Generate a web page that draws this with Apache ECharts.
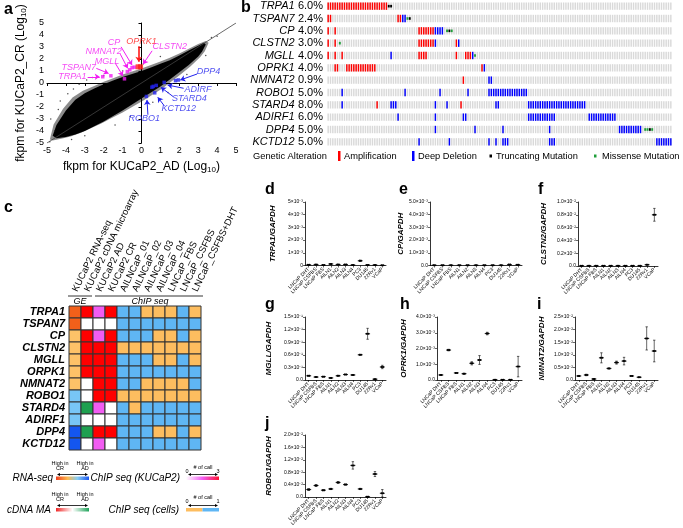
<!DOCTYPE html>
<html><head><meta charset="utf-8">
<script src="https://cdn.jsdelivr.net/npm/echarts/dist/echarts.min.js"></script>
<style>html,body{margin:0;padding:0;background:#fff}#c{width:683px;height:528px}</style>
</head><body><div id="c"></div>
<script>
const FONT = 'Liberation Sans, Arial, Helvetica, sans-serif';

// ---------- Panel a data ----------
const CLOUD_X = [-4.7,-4.5,-4.0,-3.5,-3.0,-2.5,-2.0,-1.5,-1.0,-0.5,0.0,0.5,1.0,1.5,2.0,2.5,3.0,3.3,3.4,3.2,3.0,2.5,2.0,1.5,1.0,0.5,0.0,-0.5,-1.0,-1.5,-2.0,-2.5,-3.0,-3.5,-4.0,-4.5];
const CLOUD_Y = [-4.4,-3.5,-2.3,-1.4,-0.85,-0.45,-0.1,0.2,0.5,0.75,1.0,1.3,1.6,1.9,2.3,2.7,3.1,3.35,3.2,2.6,2.2,1.5,0.9,0.3,-0.3,-0.8,-1.3,-1.8,-2.3,-2.75,-3.2,-3.6,-4.0,-4.3,-4.5,-4.6];
const HALO_X = [-4.85,-4.65,-4.15,-3.65,-3.1,-2.5,-2.0,-1.5,-1.0,-0.5,0.0,0.5,1.0,1.5,2.0,2.5,3.0,3.4,3.55,3.35,3.1,2.6,2.1,1.6,1.1,0.6,0.1,-0.45,-1.0,-1.55,-2.1,-2.65,-3.2,-3.75,-4.25,-4.7];
const HALO_Y = [-4.7,-3.45,-2.15,-1.2,-0.65,-0.25,0.1,0.4,0.7,0.95,1.2,1.5,1.8,2.1,2.45,2.85,3.25,3.5,3.35,2.65,2.15,1.4,0.75,0.15,-0.45,-0.95,-1.45,-1.95,-2.45,-2.9,-3.35,-3.75,-4.15,-4.45,-4.65,-4.8];
const OUT_X = [-4.85,-4.6,-4.3,-3.9,-3.6,-3.3,-2.9,-2.6,-4.4,-3.0,-1.4,-0.6,0.6,1.4,2.4,3.4,3.7,4.0,-2.0,-1.0,0.1,1.0,-4.8,-3.7];
const OUT_Y = [-4.9,-4.0,-1.5,-0.9,-0.5,-0.1,0.25,0.45,-2.2,-4.4,-3.5,-2.8,-1.6,-0.8,0.7,2.3,3.8,3.9,0.6,1.0,1.6,2.2,-3.0,-4.7];
const PT_X = [-2.05,-1.62,-0.9,-0.75,-0.62,-0.5,-0.38,-0.18,-0.05,1.8,1.95,1.2,0.78,0.62,0.55,0.7,0.26];
const PT_Y = [0.52,0.6,0.35,0.95,1.1,1.28,1.32,1.35,1.35,0.2,0.25,0.05,-0.2,-0.28,-0.35,-0.82,-1.12];
const PT_G = ['m','m','m','m','m','m','m','r','r','b','b','b','b','b','b','b','b'];
const LBL_NAMES = ['TRPA1','TSPAN7','MGLL','NMNAT2','CP','OPRK1','CLSTN2','DPP4','ADIRF','STARD4','KCTD12','ROBO1'];
const LBL_X = [-3.66,-3.32,-1.83,-2.0,-1.45,0.0,1.5,3.55,2.99,2.53,1.97,0.15];
const LBL_Y = [0.52,1.3,1.82,2.6,3.34,3.43,3.01,1.0,-0.5,-1.33,-2.15,-2.98];
const LBL_G = ['m','m','m','m','m','r','m','b','b','b','b','b'];
const ARR_X1 = [-2.85,-2.39,-1.38,-1.12,-1.08,-0.15,0.56,2.94,2.23,1.67,1.21,0.34];
const ARR_Y1 = [0.52,1.22,1.63,2.4,3.01,3.07,2.68,0.75,-0.44,-1.13,-1.91,-2.65];
const ARR_X2 = [-2.21,-1.74,-0.98,-0.73,-0.5,-0.15,0.08,2.05,1.38,1.03,0.86,0.29];
const ARR_Y2 = [0.52,0.8,0.58,1.22,1.49,1.77,1.57,0.25,-0.17,-0.36,-1.19,-1.41];

// ---------- Panel b data ----------
const ONCO_GENES = ['TRPA1','TSPAN7','CP','CLSTN2','MGLL','OPRK1','NMNAT2','ROBO1','STARD4','ADIRF1','DPP4','KCTD12'];
const ONCO_PCT = ['6.0%','2.4%','4.0%','3.0%','4.0%','4.0%','0.9%','5.0%','8.0%','6.0%','5.0%','5.0%'];
const ONCO_NCOL = 148;
const AMP_RUNS = [[[0,25]],[[0,1],[30,31]],[[0,0],[3,3],[39,45]],[[0,0],[3,3],[39,45],[55,55]],[[0,0],[3,3],[6,6],[39,42],[55,55],[59,61]],[[3,4],[8,20],[66,66]],[[58,58]],[],[[21,21],[57,57]],[],[],[]];
const DEL_RUNS = [[],[[32,33]],[[46,49]],[[46,46],[56,56]],[[27,27],[62,62]],[[67,67]],[[69,70]],[[6,6],[33,33],[48,48],[60,60],[69,85]],[[6,6],[27,29],[46,46],[51,51],[72,73],[86,110]],[[30,30],[46,46],[58,59],[86,97],[112,123]],[[46,46],[63,63],[75,75],[95,95],[125,134]],[[39,39],[52,52],[69,69],[72,72],[75,77],[95,97],[141,147]]];
const TRUNC_COLS = [[26,27],[35],[52],[],[],[],[],[],[],[],[138],[]];
const MISS_COLS = [[],[34],[51,53],[5],[63],[],[],[],[],[],[136,137,139],[]];

// ---------- Panel c data ----------
const HM_COLS = ['KUCaP2 RNA-seq','KUCaP2 cDNA microarray','KUCaP2 AD','KUCaP2 CR','AILNCaP_01','AILNCaP_02','AILNCaP_03','AILNCaP_04','LNCaP_FBS','LNCaP_CSFBS','LNCaP_CSFBS+DHT'];
const HM_GENES = ['TRPA1','TSPAN7','CP','CLSTN2','MGLL','ORPK1','NMNAT2','ROBO1','STARD4','ADIRF1','DPP4','KCTD12'];
const RNA_SEQ = [2,2,1,1,1,1,1,-1,-1,-1,-2,-2];
const CDNA_MA = [1,0,1,1,1,1,0,0,-1,0,-1,0];
const CHIP_AD = [1,0,1,3,3,3,3,3,1,0,3,1];
const CHIP_CR = [3,0,3,3,3,3,3,3,0,0,3,0];
const CHIP_CELLS = ['1100010','1111111','1110010','0000000','1110010','1111111','1100001','0000000','1011111','1111111','1110010','1111111'];

// ---------- Panels d-j data ----------
const CELLS = ['LNCaP DHT','LNCaP CSFBS','LNCaP FBS','AILN1','AILN2','AILN3','AILN4','PC3','DU145','22Rv1','VCaP'];
const TRPA1_M = [0.05,0.07,0.03,0.12,0.08,0.08,0.03,0.37,0.04,0.03,0.01];
const TRPA1_SD = [0.01,0.01,0.01,0.02,0.01,0.01,0.01,0.05,0.01,0.01,0.01];
const CP_M = [0.02,0.02,0.02,0.02,0.02,0.02,0.02,0.02,0.02,0.07,0.06];
const CP_SD = [0,0,0,0,0,0,0,0,0,0.02,0.02];
const CLSTN2_M = [0.005,0.005,0.005,0.005,0.005,0.005,0.005,0.005,0.005,0.02,0.8];
const CLSTN2_SD = [0,0,0,0,0,0,0,0,0,0.005,0.1];
const MGLL_M = [0.10,0.07,0.08,0.05,0.10,0.13,0.12,0.60,1.10,0.02,0.31];
const MGLL_SD = [0.01,0.01,0.01,0.01,0.01,0.01,0.01,0.01,0.13,0.01,0.04];
const OPRK1_M = [0.32,1.90,0.45,0.40,1.06,1.27,2.95,0.02,0.02,0.02,0.85];
const OPRK1_SD = [0.02,0.05,0.02,0.03,0.1,0.28,0.08,0.01,0.01,0.01,0.65];
const NMNAT2_M = [0.16,0.20,0.04,0.88,0.46,0.69,0.75,0.16,0.11,1.65,1.15];
const NMNAT2_SD = [0.02,0.03,0.01,0.2,0.02,0.06,0.15,0.01,0.01,0.46,0.43];
const ROBO1_M = [0.24,0.37,0.22,0.26,0.47,0.40,1.02,0.26,0.01,0.74,0.12];
const ROBO1_SD = [0.03,0.03,0.02,0.02,0.03,0.02,0.12,0.02,0.01,0.08,0.12];

// ---------------------------------------------------------------
const chart = echarts.init(document.getElementById('c'), null, {renderer: 'canvas'});
const COL = {m: '#f21df2', r: '#ff1a1a', b: '#2323ee'};

const grids = [], xAxes = [], yAxes = [], series = [], graphics = [];

// ----- Panel a -----
grids.push({left: 47, top: 23, width: 189, height: 120});
const aAxisBase = {
  type: 'value', min: -5, max: 5, interval: 1,
  axisLine: {lineStyle: {color: '#000', width: 1}},
  axisTick: {length: 3, lineStyle: {color: '#000'}},
  axisLabel: {fontSize: 9, color: '#000', fontFamily: FONT, margin: 3},
  splitLine: {show: false}
};
const subRich = {s: {fontSize: 8, fontFamily: FONT, color: '#000', padding: [7, 0, 0, 0]}};
xAxes.push(Object.assign({}, aAxisBase, {gridIndex: 0, name: 'fkpm for KUCaP2_AD (Log{s|10})', nameLocation: 'middle', nameGap: 16,
  nameTextStyle: {fontSize: 12, fontFamily: FONT, color: '#000', rich: subRich}}));
yAxes.push(Object.assign({}, aAxisBase, {gridIndex: 0, name: 'fkpm for KUCaP2_CR (Log{s|10})', nameLocation: 'middle', nameGap: 19, nameRotate: 90,
  nameTextStyle: {fontSize: 12, fontFamily: FONT, color: '#000', rich: subRich}}));

function polySeries(xs, ys, fill, op) {
  return {type: 'custom', xAxisIndex: 0, yAxisIndex: 0, data: [[0, 0]], silent: true,
    renderItem: (p, api) => ({type: 'polygon', shape: {points: xs.map((x, i) => api.coord([x, ys[i]]))},
      style: {fill: fill, opacity: op}})};
}
series.push(polySeries(HALO_X, HALO_Y, '#000', 0.45));
series.push(polySeries(CLOUD_X, CLOUD_Y, '#000', 1));
series.push({type: 'scatter', xAxisIndex: 0, yAxisIndex: 0, symbolSize: 1.5, itemStyle: {color: '#222'},
  data: OUT_X.map((x, i) => [x, OUT_Y[i]])});
series.push({type: 'line', xAxisIndex: 0, yAxisIndex: 0, data: [[-5, -5], [5, 5]], symbol: 'none',
  lineStyle: {color: '#444', width: 0.8}, z: 3});
series.push({type: 'scatter', xAxisIndex: 0, yAxisIndex: 0, symbol: 'rect', z: 4,
  data: PT_X.map((x, i) => ({value: [x, PT_Y[i]], symbolSize: PT_G[i] === 'r' ? 5 : 3.5, itemStyle: {color: COL[PT_G[i]]}}))});
series.push({type: 'lines', coordinateSystem: 'cartesian2d', xAxisIndex: 0, yAxisIndex: 0, symbol: ['none', 'arrow'], symbolSize: 5, z: 5,
  data: ARR_X1.map((x, i) => ({coords: [[x, ARR_Y1[i]], [ARR_X2[i], ARR_Y2[i]]],
    lineStyle: {color: COL[LBL_G[i]], width: LBL_G[i] === 'r' ? 1.6 : 1, opacity: 1}}))});
series.push({type: 'scatter', xAxisIndex: 0, yAxisIndex: 0, symbolSize: 0, z: 6,
  data: LBL_X.map((x, i) => ({value: [x, LBL_Y[i]], name: LBL_NAMES[i],
    label: {show: true, position: 'inside', formatter: '{b}', color: COL[LBL_G[i]], fontSize: 9, fontStyle: 'italic', fontFamily: FONT}}))});

// ----- Panel b: oncoprint -----
grids.push({left: 327, top: 0, width: 345, height: 148});
const oncoCats = [];
for (let i = 0; i < ONCO_NCOL; i++) oncoCats.push(String(i));
xAxes.push({gridIndex: 1, type: 'category', data: oncoCats, show: false});
yAxes.push({gridIndex: 1, type: 'category', data: ONCO_GENES, inverse: true,
  axisLine: {show: false}, axisTick: {show: false},
  axisLabel: {interval: 0, margin: 4, formatter: (v, i) => '{g|' + v + '} {p|' + ONCO_PCT[i] + '}',
    rich: {g: {fontStyle: 'italic', fontSize: 11, fontFamily: FONT, color: '#000'}, p: {fontSize: 11, fontFamily: FONT, color: '#000'}}}});
const oncoData = [];
for (let r = 0; r < ONCO_GENES.length; r++) for (let c = 0; c < ONCO_NCOL; c++) oncoData.push([c, r, 0]);
for (let r = 0; r < ONCO_GENES.length; r++) {
  AMP_RUNS[r].forEach(([a, b]) => { for (let c = a; c <= b; c++) oncoData.push([c, r, 1]); });
  DEL_RUNS[r].forEach(([a, b]) => { for (let c = a; c <= b; c++) oncoData.push([c, r, 2]); });
  TRUNC_COLS[r].forEach(c => oncoData.push([c, r, 3]));
  MISS_COLS[r].forEach(c => oncoData.push([c, r, 4]));
}
const ONCO_COLORS = ['#d9d9d9', '#ff0000', '#0000ff', '#000000', '#1f9e3a'];
series.push({type: 'custom', xAxisIndex: 1, yAxisIndex: 1, data: oncoData, silent: true,
  renderItem: (p, api) => {
    const t = api.value(2); const pt = api.coord([api.value(0), api.value(1)]);
    const w = t >= 3 ? 1.9 : 1.45, h = t >= 3 ? 2.6 : 7.4;
    return {type: 'rect', shape: {x: pt[0] - w / 2, y: pt[1] - h / 2, width: w, height: h}, style: {fill: ONCO_COLORS[t]}};
  }});
const legY = 156;
[['Genetic Alteration', 253], ['Amplification', 344], ['Deep Deletion', 418], ['Truncating Mutation', 496], ['Missense Mutation', 602]].forEach(([t, x]) =>
  graphics.push({type: 'text', x: x, y: legY, style: {text: t, font: '9.3px ' + FONT, fill: '#000', textVerticalAlign: 'middle'}}));
graphics.push({type: 'rect', shape: {x: 338, y: 151, width: 2.5, height: 10}, style: {fill: '#ff0000'}});
graphics.push({type: 'rect', shape: {x: 412, y: 151, width: 2.5, height: 10}, style: {fill: '#0000ff'}});
graphics.push({type: 'rect', shape: {x: 489.5, y: 154.5, width: 2.5, height: 3}, style: {fill: '#000'}});
graphics.push({type: 'rect', shape: {x: 594, y: 154.5, width: 2.5, height: 3}, style: {fill: '#1f9e3a'}});

// ----- Panel c: heatmap -----
grids.push({left: 69, top: 306, width: 132, height: 144});
xAxes.push({gridIndex: 2, type: 'category', data: HM_COLS, position: 'top',
  axisLine: {show: false}, axisTick: {show: false},
  axisLabel: {interval: 0, rotate: -64, margin: 15, fontSize: 9.5, fontFamily: FONT, color: '#000'}});
yAxes.push({gridIndex: 2, type: 'category', data: HM_GENES, inverse: true,
  axisLine: {show: false}, axisTick: {show: false},
  axisLabel: {interval: 0, margin: 4, fontSize: 11, fontWeight: 'bold', fontStyle: 'italic', fontFamily: FONT, color: '#000'}});
const hmData = [];
for (let r = 0; r < HM_GENES.length; r++) {
  hmData.push([0, r, 0, RNA_SEQ[r]]);
  hmData.push([1, r, 1, CDNA_MA[r]]);
  hmData.push([2, r, 2, CHIP_AD[r]]);
  hmData.push([3, r, 2, CHIP_CR[r]]);
  for (let k = 0; k < 7; k++) hmData.push([4 + k, r, 3, +CHIP_CELLS[r][k]]);
}
const HM_PAL = [
  {'2': '#f2601a', '1': '#fdc268', '-1': '#78c6f6', '-2': '#1456f0'},
  {'1': '#ff0000', '0': '#ffffff', '-1': '#1ea050'},
  {'0': '#ffffff', '1': '#f25cf2', '2': '#f530a0', '3': '#ff0000'},
  {'0': '#fdbd5f', '1': '#5fb6f4'}
];
series.push({type: 'custom', xAxisIndex: 2, yAxisIndex: 2, data: hmData, silent: true,
  renderItem: (p, api) => {
    const pt = api.coord([api.value(0), api.value(1)]); const sz = api.size([1, 1]);
    return {type: 'rect', shape: {x: pt[0] - sz[0] / 2, y: pt[1] - sz[1] / 2, width: sz[0], height: sz[1]},
      style: {fill: HM_PAL[api.value(2)][String(api.value(3))], stroke: '#333', lineWidth: 1}};
  }});
graphics.push({type: 'line', shape: {x1: 68, y1: 296, x2: 92, y2: 296}, style: {stroke: '#000', lineWidth: 0.8}});
graphics.push({type: 'line', shape: {x1: 95, y1: 296, x2: 203, y2: 296}, style: {stroke: '#000', lineWidth: 0.8}});
graphics.push({type: 'text', x: 80, y: 301, style: {text: 'GE', font: 'italic 9px ' + FONT, fill: '#000', textAlign: 'center', textVerticalAlign: 'middle'}});
graphics.push({type: 'text', x: 150, y: 301, style: {text: 'ChIP seq', font: 'italic 9px ' + FONT, fill: '#000', textAlign: 'center', textVerticalAlign: 'middle'}});

// legends for c
function legText(t, x, y, size, align, italic) {
  graphics.push({type: 'text', x: x, y: y, style: {text: t, font: (italic ? 'italic ' : '') + size + 'px ' + FONT, fill: '#000', textAlign: align, textVerticalAlign: 'middle'}});
}
function dblArrow(x1, x2, y) {
  graphics.push({type: 'line', shape: {x1: x1 + 1, y1: y, x2: x2 - 1, y2: y}, style: {stroke: '#000', lineWidth: 0.8}});
  graphics.push({type: 'polygon', shape: {points: [[x1, y], [x1 + 3, y - 1.5], [x1 + 3, y + 1.5]]}, style: {fill: '#000'}});
  graphics.push({type: 'polygon', shape: {points: [[x2, y], [x2 - 3, y - 1.5], [x2 - 3, y + 1.5]]}, style: {fill: '#000'}});
}
function gradBar(x, y, w, h, stops) {
  graphics.push({type: 'rect', shape: {x: x, y: y, width: w, height: h},
    style: {fill: new echarts.graphic.LinearGradient(0, 0, 1, 0, stops)}});
}
legText('RNA-seq', 53, 478, 10, 'right', true);
legText('High in', 60, 463, 5.5, 'center'); legText('CR', 60, 468, 5.5, 'center');
legText('High in', 85, 463, 5.5, 'center'); legText('AD', 85, 468, 5.5, 'center');
dblArrow(57, 88, 474.5);
gradBar(56, 476.5, 33, 3.5, [{offset: 0, color: '#f04020'}, {offset: 0.35, color: '#fdb94e'}, {offset: 0.65, color: '#86cdf5'}, {offset: 1, color: '#1b55f0'}]);
legText('ChIP seq (KUCaP2)', 180, 478, 10, 'right', true);
legText('0', 187, 471, 5.5, 'center'); legText('# of call', 203, 467, 5.5, 'center'); legText('3', 218, 471, 5.5, 'center');
dblArrow(188, 218, 474.5);
gradBar(186, 476.5, 33, 3.5, [{offset: 0, color: '#ffffff'}, {offset: 0.5, color: '#f25cf2'}, {offset: 1, color: '#ff1030'}]);
legText('cDNA MA', 51, 510, 10, 'right', true);
legText('High in', 60, 494, 5.5, 'center'); legText('CR', 60, 499, 5.5, 'center');
legText('High in', 85, 494, 5.5, 'center'); legText('AD', 85, 499, 5.5, 'center');
dblArrow(57, 88, 505.5);
gradBar(56, 508, 33, 3.5, [{offset: 0, color: '#f02828'}, {offset: 0.5, color: '#ffffff'}, {offset: 1, color: '#20a35a'}]);
legText('ChIP seq (cells)', 179, 510, 10, 'right', true);
legText('0', 187, 501, 5.5, 'center'); legText('# of call', 203, 497, 5.5, 'center'); legText('1', 218, 501, 5.5, 'center');
dblArrow(188, 218, 505.5);
graphics.push({type: 'rect', shape: {x: 186, y: 508, width: 16.5, height: 3.5}, style: {fill: '#fdbd5f'}});
graphics.push({type: 'rect', shape: {x: 202.5, y: 508, width: 16.5, height: 3.5}, style: {fill: '#5fb6f4'}});

// ----- Panels d-j -----
const SMALL = [
  {title: 'TRPA1/GAPDH', m: TRPA1_M, sd: TRPA1_SD, max: 5, step: 1, exp: '⁻³', dec: 0, box: [305, 202, 81, 63.5], gap: 28},
  {title: 'CP/GAPDH', m: CP_M, sd: CP_SD, max: 5, step: 1, exp: '⁻³', dec: 1, box: [430, 202, 92, 63.5], gap: 20},
  {title: 'CLSTN2/GAPDH', m: CLSTN2_M, sd: CLSTN2_SD, max: 1.0, step: 0.2, exp: '⁻²', dec: 1, box: [578, 202, 80, 64], gap: 30},
  {title: 'MGLL/GAPDH', m: MGLL_M, sd: MGLL_SD, max: 1.5, step: 0.3, exp: '⁻¹', dec: 1, box: [305, 317, 81, 63], gap: 32},
  {title: 'OPRK1/GAPDH', m: OPRK1_M, sd: OPRK1_SD, max: 4, step: 1, exp: '⁻³', dec: 1, box: [437, 317, 85, 63], gap: 29},
  {title: 'NMNAT2/GAPDH', m: NMNAT2_M, sd: NMNAT2_SD, max: 2.5, step: 0.5, exp: '⁻²', dec: 1, box: [575, 317, 83, 63], gap: 29},
  {title: 'ROBO1/GAPDH', m: ROBO1_M, sd: ROBO1_SD, max: 2.0, step: 0.4, exp: '⁻²', dec: 1, box: [305, 435, 81, 62], gap: 32}
];
SMALL.forEach((s, k) => {
  const gi = 3 + k;
  grids.push({left: s.box[0], top: s.box[1], width: s.box[2], height: s.box[3]});
  xAxes.push({gridIndex: gi, type: 'category', data: CELLS,
    axisLine: {lineStyle: {color: '#000', width: 0.8}}, axisTick: {show: true, length: 2, alignWithLabel: true, lineStyle: {color: '#000', width: 0.6}},
    axisLabel: {interval: 0, rotate: 45, fontSize: 5, margin: 3, fontFamily: FONT, color: '#000'}});
  yAxes.push({gridIndex: gi, type: 'value', min: 0, max: s.max, interval: s.step,
    name: s.title, nameLocation: 'middle', nameRotate: 90, nameGap: s.gap,
    nameTextStyle: {fontSize: 8, fontWeight: 'bold', fontStyle: 'italic', fontFamily: FONT, color: '#000'},
    axisLine: {show: true, lineStyle: {color: '#000', width: 0.8}}, axisTick: {show: true, length: 2, lineStyle: {color: '#000', width: 0.6}},
    splitLine: {show: false},
    axisLabel: {fontSize: 5, margin: 2, fontFamily: FONT, color: '#000',
      formatter: v => v === 0 ? (s.dec ? '0.0' : '0') : v.toFixed(s.dec) + '×10' + s.exp}});
  series.push({type: 'custom', xAxisIndex: gi, yAxisIndex: gi, silent: true,
    data: s.m.map((m, i) => [i, m, Math.max(0, m - s.sd[i]), m + s.sd[i]]),
    renderItem: (p, api) => {
      const c = api.coord([api.value(0), api.value(1)]);
      const lo = api.coord([api.value(0), api.value(2)]);
      const hi = api.coord([api.value(0), api.value(3)]);
      const ch = [
        {type: 'line', shape: {x1: c[0] - 2.5, y1: c[1], x2: c[0] + 2.5, y2: c[1]}, style: {stroke: '#000', lineWidth: 0.8}},
        {type: 'line', shape: {x1: c[0], y1: lo[1], x2: c[0], y2: hi[1]}, style: {stroke: '#000', lineWidth: 0.6}},
        {type: 'line', shape: {x1: c[0] - 1.2, y1: lo[1], x2: c[0] + 1.2, y2: lo[1]}, style: {stroke: '#000', lineWidth: 0.6}},
        {type: 'line', shape: {x1: c[0] - 1.2, y1: hi[1], x2: c[0] + 1.2, y2: hi[1]}, style: {stroke: '#000', lineWidth: 0.6}},
        {type: 'circle', shape: {cx: c[0] - 0.8, cy: c[1], r: 1.0}, style: {fill: '#000'}},
        {type: 'circle', shape: {cx: c[0] + 0.8, cy: c[1], r: 1.0}, style: {fill: '#000'}}
      ];
      return {type: 'group', children: ch};
    }});
});

// panel letters
[['a', 4, 10], ['b', 241, 8], ['c', 4, 208], ['d', 265, 190], ['e', 399, 190], ['f', 538, 190], ['g', 265, 305], ['h', 400, 305], ['i', 537, 305], ['j', 265, 424]].forEach(([t, x, y]) =>
  graphics.push({type: 'text', x: x, y: y, style: {text: t, font: 'bold 16px ' + FONT, fill: '#000', textVerticalAlign: 'middle'}}));

chart.setOption({
  animation: false,
  backgroundColor: '#fff',
  textStyle: {fontFamily: FONT},
  grid: grids.map(g => Object.assign({containLabel: false, outerBoundsMode: 'none'}, g)),
  xAxis: xAxes, yAxis: yAxes, series: series, graphic: graphics
});
</script></body></html>
